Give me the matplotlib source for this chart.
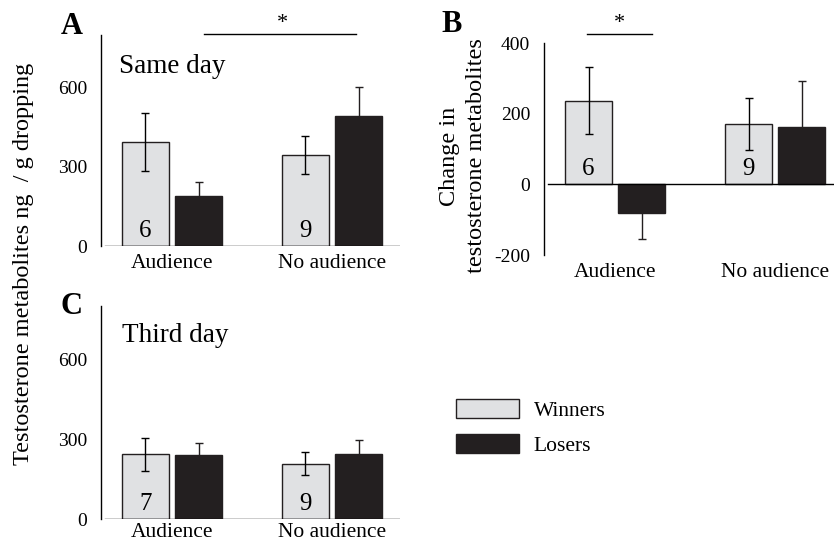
import matplotlib.pyplot as plt
from matplotlib.patches import Patch

plt.rcParams['font.family'] = ['Liberation Serif', 'DejaVu Serif']

groups = ['Audience', 'No audience']
series = ['Winners', 'Losers']

# panel A: same day
same_win = [395, 345]
same_win_err = [109, 72]
same_lose = [191, 493]
same_lose_err = [53, 111]
same_n = [6, 9]

# panel B: change in metabolites
change_win = [237, 172]
change_win_err = [95, 73]
change_lose = [-82, 163]
change_lose_err = [74, 129]
change_n = [6, 9]

# panel C: third day
third_win = [243, 207]
third_win_err = [62, 43]
third_lose = [241, 245]
third_lose_err = [45, 52]
third_n = [7, 9]

WIN_COLOR = '#e0e1e3'
LOSE_COLOR = '#231f20'
BAR_W = 0.294
OFFSET = 0.166


def draw_panel(ax, win, win_err, lose, lose_err, n, ylim, yticks, ytlabels, xlim, xpad=6):
    xs = range(len(groups))
    wx = [x - OFFSET for x in xs]
    lx = [x + OFFSET for x in xs]
    ax.bar(wx, win, BAR_W, color=WIN_COLOR, edgecolor=LOSE_COLOR, linewidth=1.0, zorder=2)
    ax.bar(lx, lose, BAR_W, color=LOSE_COLOR, edgecolor=LOSE_COLOR, linewidth=1.0, zorder=2)
    ax.errorbar(wx, win, yerr=win_err, fmt='none', ecolor='black', elinewidth=1.0,
                capsize=3, capthick=1.0, zorder=3)
    ax.errorbar(lx, lose, yerr=lose_err, fmt='none', ecolor=LOSE_COLOR, elinewidth=1.0,
                capsize=3, capthick=1.0, zorder=3)
    for x, v in zip(wx, n):
        ax.annotate(str(v), (x, 0), xytext=(0, 3), textcoords='offset points',
                    ha='center', va='bottom', fontsize=18, zorder=4)
    ax.set_xlim(*xlim)
    ax.set_ylim(*ylim)
    ax.axhline(0, xmin=0.015, xmax=1, color='black', linewidth=1.0, zorder=4)
    ax.set_yticks(yticks)
    ax.set_yticklabels(ytlabels)
    ax.set_xticks(list(xs))
    ax.set_xticklabels(groups)
    ax.tick_params(axis='y', length=0, pad=10, labelsize=14)
    ax.tick_params(axis='x', length=0, pad=xpad, labelsize=15.5)
    for s in ['top', 'right', 'bottom']:
        ax.spines[s].set_visible(False)
    ax.spines['left'].set_linewidth(1.0)
    ax.patch.set_alpha(0)


fig = plt.figure(figsize=(8.34, 5.42), dpi=100)

axA = fig.add_axes([0.1211, 0.5461, 0.3585, 0.3893])
draw_panel(axA, same_win, same_win_err, same_lose, same_lose_err, same_n,
           (0, 800), [0, 300, 600], ['0', '300', '600'], (-0.444, 1.425))
axA.text(0.06, 0.85, 'Same day', transform=axA.transAxes, fontsize=19.5, va='center')
axA.plot([0.2, 1.15], [805, 805], color='black', linewidth=1.0, clip_on=False)
axA.text(0.69, 806, '*', ha='center', va='bottom', fontsize=16)

axB = fig.add_axes([0.6523, 0.5295, 0.349, 0.3905])
draw_panel(axB, change_win, change_win_err, change_lose, change_lose_err, change_n,
           (-200, 400), [-200, 0, 200, 400], ['-200', '0', '200', '400'], (-0.444, 1.375))
axB.plot([-0.175, 0.23], [427, 427], color='black', linewidth=1.0, clip_on=False)
axB.text(0.03, 428, '*', ha='center', va='bottom', fontsize=16)
fig.text(463 / 834, 1 - 156 / 542, 'Change in\ntestosterone metabolites', fontsize=17.5,
         rotation=90, ha='center', va='center', linespacing=1.4)

axC = fig.add_axes([0.1211, 0.0424, 0.3585, 0.393])
draw_panel(axC, third_win, third_win_err, third_lose, third_lose_err, third_n,
           (0, 800), [0, 300, 600], ['0', '300', '600'], (-0.444, 1.425), xpad=3)
axC.text(0.07, 0.86, 'Third day', transform=axC.transAxes, fontsize=19.5, va='center')

fig.text(24 / 834, 1 - 264 / 542, 'Testosterone metabolites ng  / g dropping',
         rotation=90, ha='center', va='center', fontsize=17.5)

for letter, px, py in [('A', 72, 27), ('B', 452, 25), ('C', 72, 306)]:
    fig.text(px / 834, 1 - py / 542, letter, fontsize=22, fontweight='bold',
             ha='center', va='center')

handles = [Patch(facecolor=WIN_COLOR, edgecolor=LOSE_COLOR, linewidth=1.0),
           Patch(facecolor=LOSE_COLOR, edgecolor=LOSE_COLOR, linewidth=1.0)]
fig.legend(handles, series, loc='upper left', bbox_to_anchor=(452 / 834, 1 - 395 / 542),
           frameon=False, fontsize=15.5, handlelength=2.9, handleheight=0.95,
           handletextpad=0.7, labelspacing=0.62, borderaxespad=0, borderpad=0.2)

fig.savefig('out.png', dpi=100)
